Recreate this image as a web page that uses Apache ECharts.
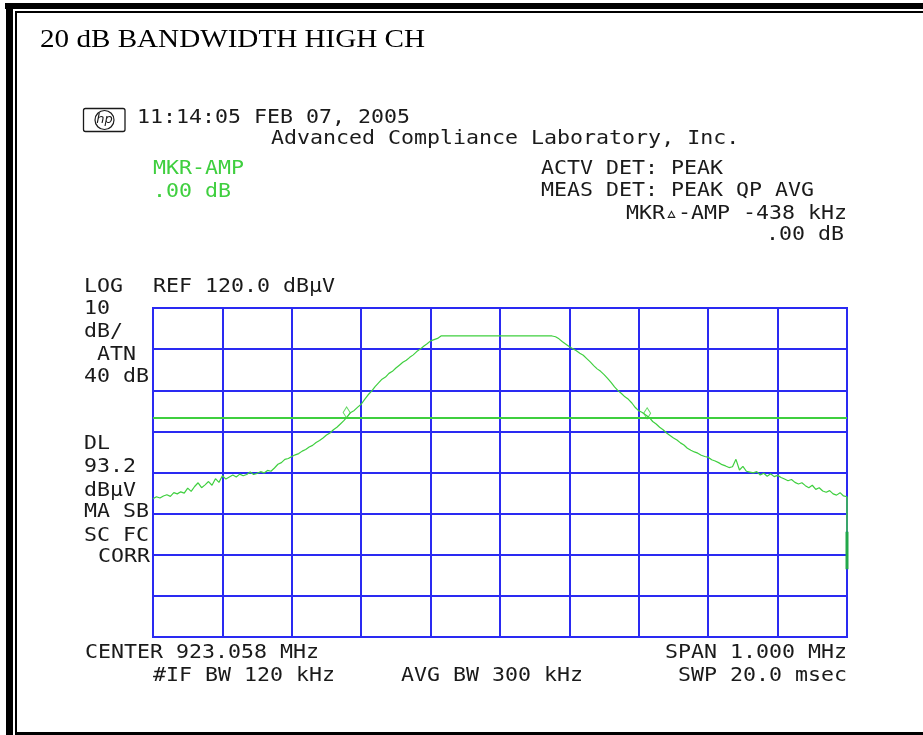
<!DOCTYPE html>
<html>
<head>
<meta charset="utf-8">
<script src="https://cdn.jsdelivr.net/npm/echarts@6/dist/echarts.min.js"></script>
<style>
html,body{margin:0;padding:0;background:#fff;}
#chart{width:923px;height:735px;}
</style>
</head>
<body>
<div id="chart"></div>
<script>
// ---- data (frequency offset from center, kHz ; level dBµV) ----
var freqs = [
-500,-495,-490,-485,-480,-475,-470,-465,-460,-455,-450,-445,-440,-435,-430,-425,-420,-415,-410,-405,
-400,-395,-390,-385,-380,-375,-370,-365,-360,-355,-350,-345,-340,-335,-330,-325,-320,-315,-310,-305,
-300,-295,-290,-285,-280,-275,-270,-265,-260,-255,-250,-245,-240,-235,-230,-225,-220,-215,-210,-205,
-200,-195,-190,-185,-180,-175,-170,-165,-160,-155,-150,-145,-140,-135,-130,-125,-120,-115,-110,-105,
-100,-95,-90,-85,-80,0,75,
80,85,90,95,100,105,110,115,120,125,130,135,140,145,150,155,160,165,170,175,
180,185,190,195,200,205,210,215,220,225,230,235,240,245,250,255,260,265,270,275,
280,285,290,295,300,305,310,315,320,325,330,335,340,345,350,355,360,365,370,375,
380,385,390,395,400,405,410,415,420,425,430,435,440,445,450,455,460,465,470,475,
480,485,490,495,500
];
var levels = [
73.6,74.1,73.8,74.3,74.6,74.2,75.1,74.8,75.3,75.0,76.2,75.4,76.6,77.5,76.3,77.0,77.8,76.9,78.5,77.6,
79.2,78.4,78.9,79.4,78.9,79.6,79.2,79.5,80.1,79.5,79.8,80.2,79.9,80.5,80.3,81.1,82.0,82.4,83.2,83.4,
83.9,84.3,84.6,85.2,85.6,86.2,86.6,87.3,87.8,88.4,89.1,89.6,90.4,91.0,91.8,92.6,93.6,94.6,95.1,95.9,
96.6,97.8,98.9,99.8,100.9,101.8,102.7,103.2,104.1,104.6,105.4,106.1,106.8,107.3,108.0,108.6,109.4,110.0,110.7,111.3,
112.0,112.3,112.6,113.2,113.2,113.2,113.2,
113.0,112.5,111.8,111.2,110.6,110.1,109.6,109.0,108.5,107.7,106.9,106.0,105.2,104.6,103.8,102.9,101.9,100.8,99.9,99.2,
98.4,97.8,96.9,95.8,95.0,94.6,94.0,93.4,92.4,91.8,91.0,90.4,89.6,89.0,88.4,87.9,87.2,86.7,85.9,85.4,
85.0,84.7,84.2,83.9,83.7,83.1,82.8,82.4,81.9,81.6,81.2,81.4,83.2,80.6,81.5,80.3,80.1,79.9,80.2,79.4,
79.8,79.1,79.7,79.0,79.3,78.8,78.4,78.0,78.3,77.6,77.2,77.5,76.8,76.3,76.9,75.9,76.3,75.5,75.2,75.6,
74.8,74.5,75.1,74.3,74.1
];
var retraceFreqs = [500, 500];
var retraceLevels = [74.1, 65.6];
var retraceTailLevels = [65.6, 56.5];
var markerFreqs = [-221, 212];
var markerLevels = [94.6, 94.4];
var displayLine = 93.2;
var refLevel = 120;
var bottomLevel = 40;
var dbPerDiv = 10;
var spanStart = -500, spanEnd = 500, kHzPerDiv = 100;

function pairs(xs, ys){ return xs.map(function(x,i){ return [x, ys[i]]; }); }

var GREEN = '#3fcf3f';
var BLUE = '#2a2af2';
var INK = '#1a1a1a';
var MONO = '"DejaVu Sans Mono", monospace';
var SX = 1.08;

function t(str, x, baseline, color){
  return {type:'text', x:x, y:baseline-6, scaleX:SX, silent:true,
    style:{text:str, x:0, y:0, font:'20px ' + MONO, fill:color||INK, verticalAlign:'middle', align:'left'}};
}

var chart = echarts.init(document.getElementById('chart'), null, {renderer:'canvas'});
chart.setOption({
  backgroundColor:'#ffffff',
  animation:false,
  grid:{left:153, top:308, width:694, height:329, show:true, borderColor:BLUE, borderWidth:2, backgroundColor:'transparent'},
  xAxis:{type:'value', min:spanStart, max:spanEnd, interval:kHzPerDiv,
    axisLine:{show:false}, axisTick:{show:false}, axisLabel:{show:false},
    splitLine:{show:true, lineStyle:{color:BLUE, width:2}}},
  yAxis:{type:'value', min:bottomLevel, max:refLevel, interval:dbPerDiv,
    axisLine:{show:false}, axisTick:{show:false}, axisLabel:{show:false},
    splitLine:{show:true, lineStyle:{color:BLUE, width:2}}},
  series:[
    {type:'line', data:pairs(freqs, levels), symbol:'none', smooth:false,
     lineStyle:{color:GREEN, width:1.2}, z:5,
     markLine:{silent:true, symbol:'none', label:{show:false},
       lineStyle:{color:GREEN, width:2, type:'solid'},
       data:[{yAxis:displayLine}]}},
    {type:'line', data:pairs(retraceFreqs, retraceLevels), symbol:'none',
     lineStyle:{color:GREEN, width:1.5}, z:6},
    {type:'line', data:pairs(retraceFreqs, retraceTailLevels), symbol:'none',
     lineStyle:{color:'#22a84a', width:3}, z:6},
    {type:'scatter', data:pairs(markerFreqs, markerLevels), symbol:'diamond', symbolSize:[7,11],
     itemStyle:{color:'rgba(0,0,0,0)', borderColor:GREEN, borderWidth:1}, z:7}
  ],
  graphic:[
    // frame
    {type:'rect', shape:{x:5, y:3, width:918, height:6}, style:{fill:'#000'}, silent:true},
    {type:'rect', shape:{x:15, y:11, width:908, height:2}, style:{fill:'#000'}, silent:true},
    {type:'rect', shape:{x:6, y:3, width:7, height:732}, style:{fill:'#000'}, silent:true},
    {type:'rect', shape:{x:15, y:11, width:2, height:724}, style:{fill:'#000'}, silent:true},
    {type:'rect', shape:{x:15, y:732, width:908, height:3}, style:{fill:'#000'}, silent:true},
    // title
    {type:'text', x:40, y:40, scaleX:1.12, silent:true,
     style:{text:'20 dB BANDWIDTH HIGH CH', x:0, y:0, font:'26px "Liberation Serif", "Times New Roman", serif', fill:'#000', verticalAlign:'middle'}},
    // hp logo
    {type:'rect', shape:{x:83.5, y:108.5, width:41.5, height:23, r:2}, style:{fill:'none', stroke:INK, lineWidth:1.3}, silent:true},
    {type:'circle', shape:{cx:104.5, cy:120, r:9.5}, style:{fill:'none', stroke:INK, lineWidth:1.2}, silent:true},
    {type:'text', x:104.5, y:120, silent:true,
     style:{text:'hp', font:'italic 13px "DejaVu Sans", sans-serif', fill:INK, align:'center', verticalAlign:'middle'}},
    t('11:14:05 FEB 07, 2005', 137, 124),
    t('Advanced Compliance Laboratory, Inc.', 271, 145),
    t('MKR-AMP', 153, 175, GREEN),
    t('.00 dB', 153, 198, GREEN),
    t('ACTV DET: PEAK', 541, 175),
    t('MEAS DET: PEAK QP AVG', 541, 197),
    t('MKR\u25B5-AMP -438 kHz', 626, 220),
    t('.00 dB', 766, 241),
    t('LOG', 84, 293),
    t('REF 120.0 dB\u00B5V', 153, 293),
    t('10', 84, 315),
    t('dB/', 84, 338),
    t('ATN', 97, 361),
    t('40 dB', 84, 383),
    t('DL', 84, 450),
    t('93.2', 84, 473),
    t('dB\u00B5V', 84, 497),
    t('MA SB', 84, 518),
    t('SC FC', 84, 542),
    t('CORR', 98, 563),
    t('CENTER 923.058 MHz', 85, 659),
    t('#IF BW 120 kHz', 153, 682),
    t('AVG BW 300 kHz', 401, 682),
    t('SPAN 1.000 MHz', 665, 659),
    t('SWP 20.0 msec', 678, 682)
  ]
});
</script>
</body>
</html>
